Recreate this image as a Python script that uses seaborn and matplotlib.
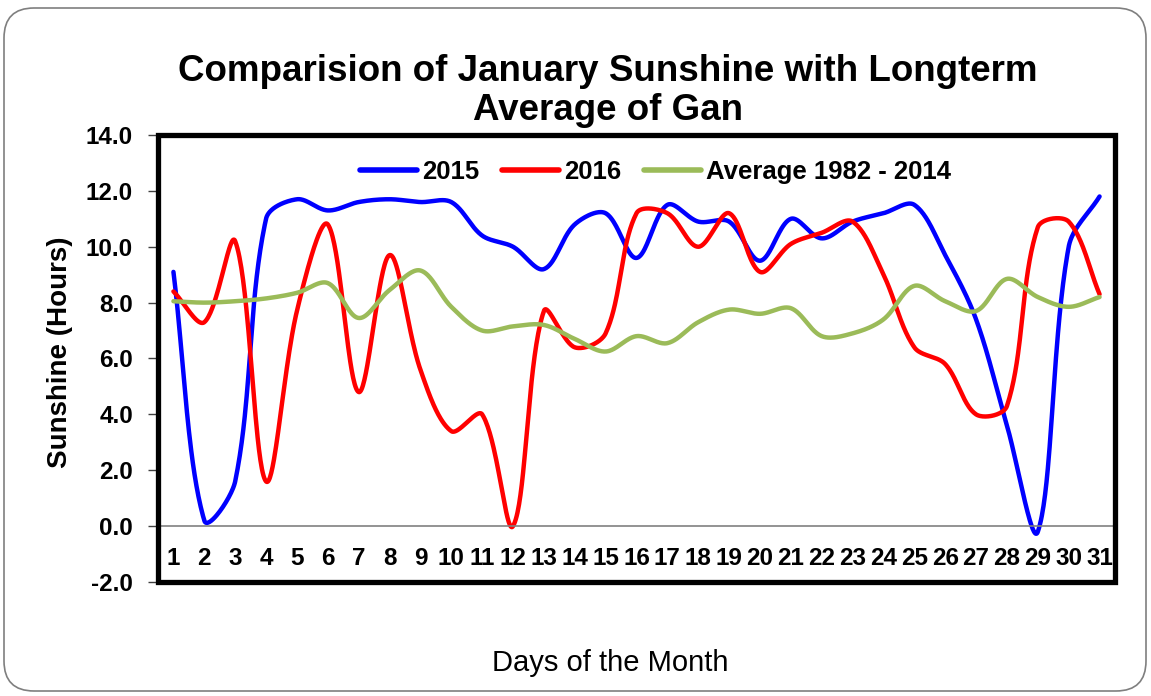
"""
January sunshine at Gan: 2015, 2016 and the 1982-2014 average.
Usage: python plot.py
"""
import matplotlib
matplotlib.use("Agg")
import matplotlib.pyplot as plt
from matplotlib.patches import FancyBboxPatch, Rectangle
import numpy as np
import pandas as pd
import seaborn as sns

days = list(range(1, 32))
sun_2015 = [9.1, 0.2, 1.6, 11.0, 11.7, 11.3, 11.6, 11.7, 11.6, 11.6,
            10.4, 10.0, 9.2, 10.8, 11.2, 9.6, 11.5, 10.9, 10.9, 9.5,
            11.0, 10.3, 10.9, 11.2, 11.5, 9.7, 7.4, 3.6, -0.2, 10.0, 11.8]
sun_2016 = [8.4, 7.3, 10.2, 1.6, 7.7, 10.8, 4.8, 9.7, 5.6, 3.4,
            4.0, 0.0, 7.7, 6.4, 6.9, 11.2, 11.2, 10.0, 11.2, 9.1,
            10.1, 10.5, 10.9, 9.0, 6.4, 5.8, 4.0, 4.3, 10.7, 10.9, 8.3]
sun_avg = [8.05, 8.0, 8.05, 8.15, 8.35, 8.7, 7.45, 8.45, 9.15, 7.85,
           7.0, 7.15, 7.2, 6.7, 6.25, 6.8, 6.55, 7.3, 7.75, 7.6,
           7.8, 6.8, 6.9, 7.4, 8.6, 8.05, 7.7, 8.85, 8.2, 7.85, 8.2]

series_names = ["2015", "2016", "Average 1982 - 2014"]
series_vals = [sun_2015, sun_2016, sun_avg]
colors = ["#0000FF", "#FF0000", "#9BBB59"]
y_ticks = np.arange(-2, 14.1, 2)

# screen aspect used by the smoothing (px per day, px per hour)
PX_X, PX_Y = 30.9, 27.93


def smooth(xs, ys, n=40):
    """Excel-style smoothed line: Bezier segments, chord-weighted tangents."""
    p = np.column_stack([xs, ys]).astype(float)
    scale = np.array([PX_X, PX_Y])
    p = np.vstack([p[0], p, p[-1]])
    d = np.linalg.norm(np.diff(p * scale, axis=0), axis=1)
    t = np.linspace(0, 1, n, endpoint=False)[:, None]
    out = []
    for i in range(1, len(p) - 2):
        p0, p1, p2, p3 = p[i - 1], p[i], p[i + 1], p[i + 2]
        d01, d12, d23 = d[i - 1], d[i], d[i + 1]
        c1 = p1 + (p2 - p0) * d12 / (d01 + d12) / 3
        c2 = p2 - (p3 - p1) * d12 / (d12 + d23) / 3
        seg = ((1 - t) ** 3) * p1 + 3 * ((1 - t) ** 2) * t * c1 + 3 * (1 - t) * t ** 2 * c2 + t ** 3 * p2
        out.append(seg)
    out.append(p[-2][None, :])
    return np.vstack(out)


frames = []
for name, vals in zip(series_names, series_vals):
    curve = smooth(days, vals)
    frames.append(pd.DataFrame({"day": curve[:, 0], "hours": curve[:, 1], "series": name}))
df = pd.concat(frames, ignore_index=True)

sns.set_style("white")
plt.rcParams.update({
    "text.color": "black",
    "axes.labelcolor": "black",
    "xtick.color": "black",
    "ytick.color": "black",
    "font.weight": "bold",
})
plt.rcParams["font.family"] = ["Liberation Sans", "DejaVu Sans"]

fig = plt.figure(figsize=(11.51, 6.96), dpi=100)
ax = fig.add_axes([158 / 1151, 1 - 582 / 696, 957 / 1151, 447 / 696])

# outer chart border
fig.patches.append(FancyBboxPatch((0.04, 0.05), 11.42, 6.83,
                                  boxstyle="round,pad=0,rounding_size=0.3",
                                  transform=fig.dpi_scale_trans, fill=False,
                                  edgecolor="#7f7f7f", linewidth=1.2, zorder=0))

sns.lineplot(data=df, x="day", y="hours", hue="series", hue_order=series_names,
             palette=colors, estimator=None, sort=False, linewidth=3.2, ax=ax)

ax.set_xlim(0.5, 31.5)
ax.set_ylim(-2, 14)
ax.set_yticks(y_ticks)
ax.set_yticklabels([f"{v:.1f}" for v in y_ticks])
ax.set_xticks(days)
ax.set_xticklabels([str(d) for d in days])
ax.set_xticks(np.arange(1.5, 31, 1), minor=True)
ax.tick_params(axis="x", which="major", length=0, pad=15, labelsize=17.5)
ax.tick_params(axis="x", which="minor", length=6, width=1, color="#404040", direction="out")
ax.tick_params(axis="y", length=7, width=1, color="#404040", pad=11, left=True, labelsize=17.5)

for s in ["top", "right", "left"]:
    ax.spines[s].set_visible(False)
ax.spines["bottom"].set_position(("data", 0))
ax.spines["bottom"].set_color("#808080")
ax.spines["bottom"].set_linewidth(1.2)
ax.add_patch(Rectangle((0, 0), 1, 1, transform=ax.transAxes, fill=False,
                       edgecolor="black", linewidth=3.8, zorder=5, clip_on=False))

ax.set_xlabel("")
ax.set_ylabel("")
fig.text(60 / 1151, 1 - 352 / 696, "Sunshine (Hours)", rotation=90, ha="center", va="center",
         fontsize=20, fontweight="bold")
fig.text(610 / 1151, 1 - 663 / 696, "Days of the Month", ha="center", va="center",
         fontsize=21, fontweight="normal")
fig.text(608 / 1151, 1 - 91 / 696, "Comparision of January Sunshine with Longterm\nAverage of Gan",
         ha="center", va="center", fontsize=26.5, fontweight="bold", linespacing=1.12)

leg = ax.get_legend()
handles = leg.legend_handles
labels = [t.get_text() for t in leg.get_texts()]
leg.remove()
leg = ax.legend(handles, labels, loc="center", bbox_to_anchor=(0.52, 0.917), ncol=3,
                frameon=False, handlelength=2.2, handletextpad=0.2, columnspacing=0.9,
                prop={"size": 18.5, "weight": "bold"})
for h in leg.legend_handles:
    h.set_linewidth(4)

fig.savefig("out.png", dpi=100)
plt.close(fig)
